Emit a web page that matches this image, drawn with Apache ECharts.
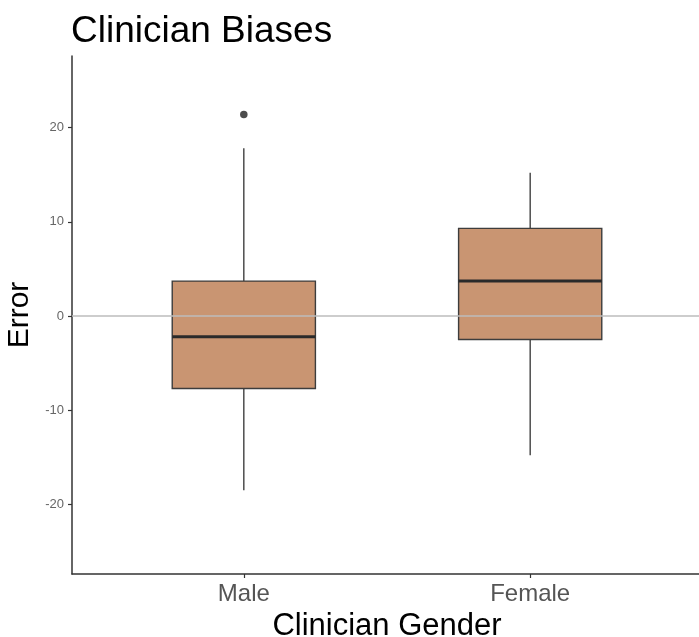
<!DOCTYPE html>
<html>
<head>
<meta charset="utf-8">
<title>Clinician Biases</title>
<script src="https://cdn.jsdelivr.net/npm/echarts@6/dist/echarts.min.js"></script>
<style>
  html, body { margin: 0; padding: 0; background: #ffffff; }
  #chart { width: 699px; height: 637px; }
</style>
</head>
<body>
<div id="chart"></div>
<script>
// Box summaries per clinician gender (Error)
const categories = ['Male', 'Female'];
const whiskerLow = [-18.5, -14.8];
const quartile1 = [-7.7, -2.5];
const medians = [-2.2, 3.7];
const quartile3 = [3.7, 9.3];
const whiskerHigh = [17.8, 15.2];

// Points beyond the whiskers
const outlierCategory = ['Male'];
const outlierValues = [21.4];

// Tick labels on the value axis
const yTickValues = [-20, -10, 0, 10, 20];

const FONT = '"Liberation Sans", Arial, Helvetica, sans-serif';

// Category i sits at position i + 1 on a numeric x scale (padding 0.6 each side)
const boxData = categories.map((c, i) => [
  i + 1, whiskerLow[i], quartile1[i], medians[i], quartile3[i], whiskerHigh[i]
]);
const outlierData = outlierCategory.map((c, k) => [categories.indexOf(c) + 1, outlierValues[k]]);

function renderBox(params, api) {
  const x = api.value(0);
  const low = api.coord([x, api.value(1)]);
  const q1 = api.coord([x, api.value(2)]);
  const med = api.coord([x, api.value(3)]);
  const q3 = api.coord([x, api.value(4)]);
  const high = api.coord([x, api.value(5)]);
  const half = api.size([1, 0])[0] * 0.25;
  const cx = q1[0];
  const edge = { stroke: '#404040', lineWidth: 1.4 };
  return {
    type: 'group',
    children: [
      { type: 'line', shape: { x1: cx, y1: high[1], x2: cx, y2: q3[1] }, style: edge },
      { type: 'line', shape: { x1: cx, y1: q1[1], x2: cx, y2: low[1] }, style: edge },
      {
        type: 'rect',
        shape: { x: cx - half, y: q3[1], width: half * 2, height: q1[1] - q3[1] },
        style: { fill: '#c99572', stroke: '#3d3d3d', lineWidth: 1.4 }
      },
      {
        type: 'line',
        shape: { x1: cx - half, y1: med[1], x2: cx + half, y2: med[1] },
        style: { stroke: '#2a2a2a', lineWidth: 3 }
      }
    ]
  };
}

const chart = echarts.init(document.getElementById('chart'), null, { renderer: 'canvas' });

chart.setOption({
  animation: false,
  backgroundColor: '#ffffff',
  textStyle: { fontFamily: FONT },
  title: {
    text: 'Clinician Biases',
    left: 71,
    top: 13,
    padding: 0,
    textStyle: { fontFamily: FONT, fontSize: 37, fontWeight: 'normal', color: '#000000' }
  },
  grid: {
    left: 72, right: -3, top: 56, bottom: 63,
    containLabel: false,
    outerBoundsMode: 'none'
  },
  xAxis: {
    type: 'value',
    min: 0.4,
    max: 2.6,
    name: 'Clinician Gender',
    nameLocation: 'middle',
    nameGap: 30,
    nameTextStyle: { fontFamily: FONT, fontSize: 31, color: '#000000' },
    axisLine: { show: true, onZero: false, lineStyle: { color: '#333333', width: 1.5 } },
    axisTick: { show: true, customValues: [1, 2], length: 4, lineStyle: { color: '#333333', width: 1.2 } },
    axisLabel: {
      customValues: [1, 2],
      formatter: v => categories[Math.round(v) - 1] || '',
      fontFamily: FONT,
      fontSize: 24,
      color: '#555555',
      margin: 8
    },
    splitLine: { show: false }
  },
  yAxis: {
    type: 'value',
    min: -27.4,
    max: 27.6,
    name: 'Error',
    nameLocation: 'middle',
    nameRotate: 90,
    nameGap: 32,
    nameTextStyle: { fontFamily: FONT, fontSize: 30, color: '#000000' },
    axisLine: { show: true, onZero: false, lineStyle: { color: '#333333', width: 1.5 } },
    axisTick: { show: true, customValues: yTickValues, length: 4, lineStyle: { color: '#333333', width: 1.2 } },
    axisLabel: {
      customValues: yTickValues,
      fontFamily: FONT,
      fontSize: 13,
      color: '#666666',
      margin: 8
    },
    splitLine: { show: false }
  },
  series: [
    {
      name: 'box',
      type: 'custom',
      renderItem: renderBox,
      encode: { x: 0, y: [1, 2, 3, 4, 5] },
      data: boxData,
      z: 2,
      silent: true
    },
    {
      name: 'outliers',
      type: 'scatter',
      data: outlierData,
      symbol: 'circle',
      symbolSize: 7.5,
      itemStyle: { color: '#1f1f1f' },
      z: 4,
      silent: true,
      markLine: {
        silent: true,
        symbol: ['none', 'none'],
        label: { show: false },
        lineStyle: { color: '#bdbdbd', width: 1.5, type: 'solid' },
        data: [{ yAxis: 0 }],
        z: 3
      }
    }
  ]
});
</script>
</body>
</html>
